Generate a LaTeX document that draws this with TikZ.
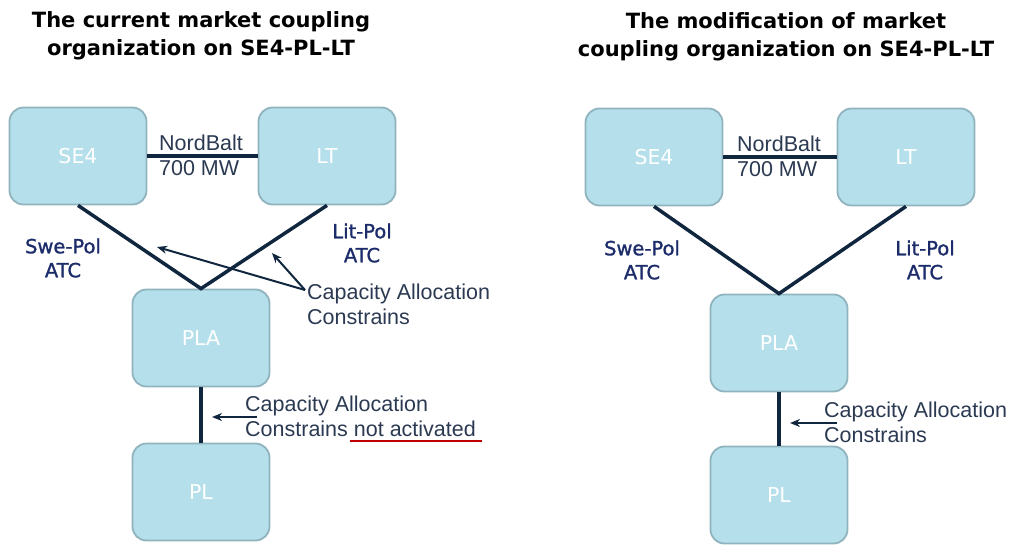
\documentclass[tikz,border=0pt]{standalone}
\usepackage{fontspec}
\setmainfont{DejaVu Sans}
\newfontfamily\arialfont{Liberation Sans}
\newfontfamily\atcfont[FakeBold=1.3]{DejaVu Sans}
\usetikzlibrary{arrows.meta}
\definecolor{boxfill}{HTML}{B5DFEA}
\definecolor{boxline}{HTML}{8FB4BE}
\definecolor{wire}{HTML}{10263F}
\definecolor{labtxt}{HTML}{2B3A52}
\definecolor{atctxt}{HTML}{1C2C6B}
\definecolor{redline}{HTML}{C00000}

\begin{document}
\begin{tikzpicture}[x=1pt,y=-1pt,
  zone/.style={draw=boxline,fill=boxfill,line width=1.8pt,rounded corners=14pt,
    minimum width=137pt,minimum height=97pt,text=white,font=\fontsize{20.5}{24}\selectfont},
  tie/.style={draw=wire,line width=3.5pt},
  pointer/.style={draw=wire,line width=2pt,-{Stealth[length=10pt,width=8pt]}},
  heading/.style={align=center,font=\bfseries\fontsize{21}{28}\selectfont},
  linklab/.style={align=left,inner sep=0pt,text=labtxt,font=\arialfont\fontsize{21.5}{25}\selectfont},
  atclab/.style={align=center,inner sep=0pt,text=atctxt,font=\atcfont\fontsize{19.5}{24}\selectfont}]
\useasboundingbox (0,0) rectangle (1013,546);
\fill[white] (0,0) rectangle (1013,546);

\node[heading] (ltitle) at (201,36) {The current market coupling\\organization on SE4-PL-LT};
\node[heading] (rtitle) at (786,37) {The modification of market\\coupling organization on SE4-PL-LT};

  \foreach \nm/\txt/\px/\py in {se4/SE4/78/156,lt/LT/327/156,pla/PLA/201/338,pl/PL/201/492}
  {  \node [zone] (l\nm) at (\px,\py) {\txt};}
  \foreach \nm/\txt/\px/\py in {se4/SE4/654/157,lt/LT/906/157,pla/PLA/779/343,pl/PL/779/495}
  {  \node [zone] (r\nm) at (\px,\py) {\txt};}

\draw[tie] (lse4.east) -- (llt.west);
\draw[tie] (lse4.south) -- (lpla.north) -- (llt.south);
\draw[tie] (lpla.south) -- (lpl.north);
\node[linklab] (lnord) at (201,155) {NordBalt\\700 MW};
\node[atclab] (lswe) at (63,258) {Swe-Pol\\ATC};
\node[atclab] (llit) at (362,243) {Lit-Pol\\ATC};

\node[linklab,anchor=west] (lcapup) at (307,304) {Capacity Allocation\\Constrains};
\coordinate (lsrc) at (305,290);
\coordinate (ltipa) at (157,247);
\coordinate (ltipb) at (272,253);
\draw[pointer] (lsrc) -- (ltipa);
\draw[pointer] (lsrc) -- (ltipb);

\node[linklab,anchor=west] (lcapdn) at (245,416) {Capacity Allocation\\Constrains not activated};
\coordinate (lbsrc) at (257,417);
\coordinate (lbtip) at (212,417);
\draw[pointer] (lbsrc) -- (lbtip);
\draw[redline,line width=2.5pt] (350,441) -- (482,441);

\draw[tie] (rse4.east) -- (rlt.west);
\draw[tie] (rse4.south) -- (rpla.north) -- (rlt.south);
\draw[tie] (rpla.south) -- (rpl.north);
\node[linklab] (rnord) at (779,156) {NordBalt\\700 MW};
\node[atclab] (rswe) at (642,260) {Swe-Pol\\ATC};
\node[atclab] (rlit) at (925,260) {Lit-Pol\\ATC};

\node[linklab,anchor=west] (rcap) at (824,422) {Capacity Allocation\\Constrains};
\coordinate (rbsrc) at (837,423);
\coordinate (rbtip) at (790,423);
\draw[pointer] (rbsrc) -- (rbtip);
\end{tikzpicture}
\end{document}
